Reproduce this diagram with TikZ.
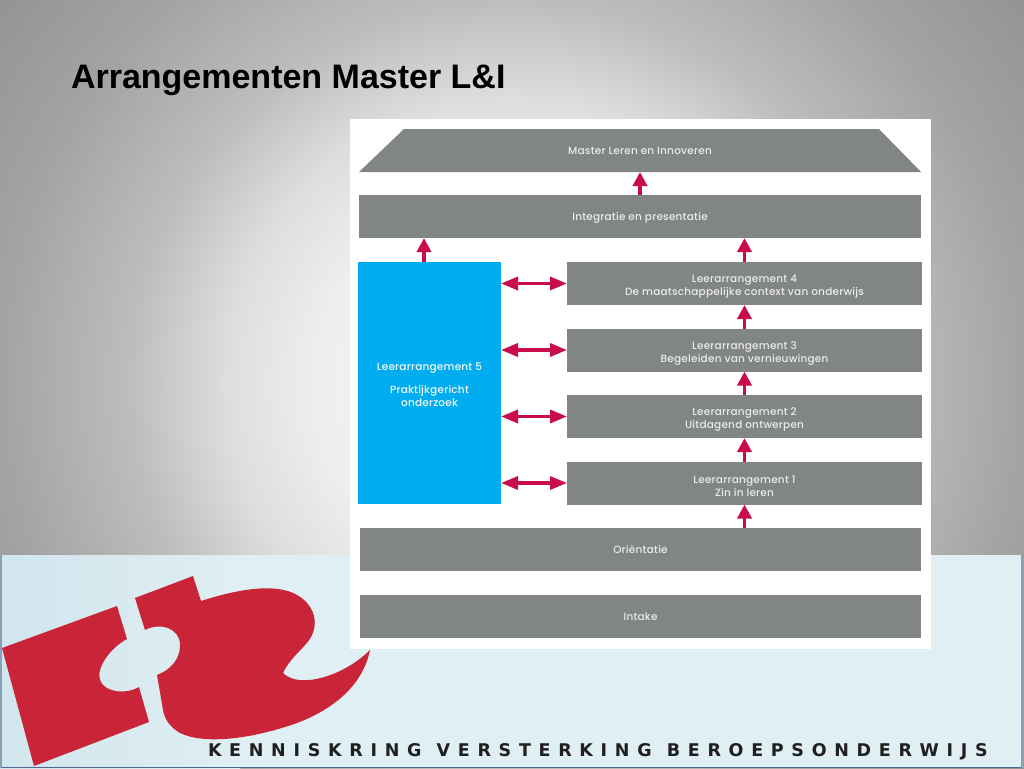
\documentclass[tikz,border=0pt]{standalone}
\usepackage{fontspec}
\setmainfont{Liberation Sans}
\newfontfamily\boxfont[LetterSpace=2]{Poppins Medium}
\newfontfamily\bandfont[LetterSpace=44,WordSpace=1.1]{DejaVu Sans Bold}
\usetikzlibrary{arrows.meta,positioning}
\definecolor{boxgrey}{rgb}{0.51,0.52,0.52}
\definecolor{boxblue}{rgb}{0,0.68,0.94}
\definecolor{pijl}{rgb}{0.79,0.05,0.29}
\definecolor{logored}{rgb}{0.79,0.14,0.22}
\definecolor{band}{rgb}{0.875,0.937,0.953}
\definecolor{bandleft}{rgb}{0.82,0.90,0.93}
\definecolor{rand}{rgb}{0.30,0.42,0.55}
\pgfdeclareradialshading{slidebg}{\pgfpointorigin}{
    color(0bp)=(white);
    color(7.6bp)=(black!7);
    color(10.8bp)=(black!13);
    color(14.5bp)=(black!26);
    color(19.4bp)=(black!36);
    color(24.2bp)=(black!42);
    color(50bp)=(black!42)}
\newcommand{\kop}[1]{\rule{0pt}{#1pt}}

\begin{document}
\begin{tikzpicture}[
    x=1pt, y=-1pt,
    every node/.style={inner sep=0pt, outer sep=0pt},
    grey box/.style={fill=boxgrey, text=black!8, font=\boxfont\fontsize{10.5}{13}\selectfont, align=center, minimum height=43pt},
    one line/.style={text height=8pt, text depth=0pt},
    wide box/.style={grey box, one line, minimum width=561pt},
    leer box/.style={grey box, minimum width=355pt},
    blue box/.style={fill=boxblue, text=black!3, font=\boxfont\fontsize{10.5}{13}\selectfont, align=center, minimum width=143pt, minimum height=242pt},
    up arrow/.style={draw=pijl, line width=3.6pt, -{Triangle[length=14pt, width=14pt]}},
    both arrow/.style={draw=pijl, line width=3.4pt, {Triangle[length=17pt, width=13pt]}-{Triangle[length=17pt, width=13pt]}}
    ]

    % achtergrond
    \useasboundingbox (0,0) rectangle (1024,768);
    \begin{scope}
        \clip (0,0) rectangle (1024,768);
        \shade[shading=slidebg] (512,384) circle (660);
    \end{scope}
    \fill[band] (0,555) rectangle (1024,768);
    \fill[left color=bandleft, right color=band] (0,555) rectangle (240,768);
    \fill[rand] (0,766.5) rectangle (1024,768);
    \fill[rand!60!band] (0,555) rectangle (1.5,768);
    \fill[rand!60!band] (1021,555) rectangle (1024,768);

    % logo
    \fill[logored] (2,648) -- (117,606) -- (127,639)
        .. controls (110,648) and (96,668) .. (100,680)
        .. controls (104,692) and (125,695) .. (139,687)
        -- (149,722) -- (34,766) -- cycle;
    \fill[logored] (135,598) -- (193,576) -- (201,601)
        .. controls (235,590) and (275,582) .. (297,595)
        .. controls (318,607) and (320,630) .. (305,645)
        .. controls (296,655) and (288,662) .. (283,673)
        .. controls (300,690) and (345,675) .. (370,650)
        .. controls (362,690) and (325,715) .. (285,727)
        .. controls (250,738) and (205,745) .. (180,733)
        .. controls (170,727) and (165,720) .. (163,710)
        -- (157,675)
        .. controls (170,670) and (180,660) .. (180,645)
        .. controls (180,628) and (160,622) .. (145,630)
        -- cycle;
    \node[font=\bandfont\fontsize{17.5}{18}\selectfont, text=black!88, anchor=base west] (band tekst) at (208,756.5) {KENNISKRING VERSTERKING BEROEPSONDERWIJS};

    \node[font=\bfseries\fontsize{34}{34}\selectfont, anchor=west] (titel) at (71,80) {Arrangementen Master L\&I};

    % schema
    \node[fill=white, minimum width=581pt, minimum height=530pt, anchor=north west] (paneel) at (350,119) {};

    \fill[boxgrey] (359,172) -- (404,129) -- (879,129) -- (921,172) -- cycle;
    \node[wide box, fill=none, minimum width=562pt] (master) at (640,150.5) {Master Leren en Innoveren};
    \node[wide box, minimum width=562pt] (integratie) at (640,216.5) {Integratie en presentatie};
    \node[blue box] (leer5) at (429.5,383) {\kop{12}Leerarrangement 5\\[10pt]Praktijkgericht\\onderzoek};
    \node[leer box] (leer4) at (744.5,283.5) {\kop{14}Leerarrangement 4\\De maatschappelijke context van onderwijs};
    \node[leer box, below=23.5pt of leer4] (leer3) {\kop{14}Leerarrangement 3\\Begeleiden van vernieuwingen};
    \node[leer box, below=23.5pt of leer3] (leer2) {\kop{14}Leerarrangement 2\\Uitdagend ontwerpen};
    \node[leer box, below=23.5pt of leer2] (leer1) {\kop{14}Leerarrangement 1\\Zin in leren};
    \node[wide box] (orientatie) at (640.5,549.5) {Oriëntatie};
    \node[wide box] (intake) at (640.5,616.5) {Intake};

    \draw[up arrow] (orientatie.north -| leer1.south) -- (leer1.south);
    \draw[up arrow] (leer1.north) -- (leer2.south);
    \draw[up arrow] (leer2.north) -- (leer3.south);
    \draw[up arrow] (leer3.north) -- (leer4.south);
    \draw[up arrow] (leer4.north) -- (leer4.north |- integratie.south);
    \draw[up arrow] (integratie.north) -- (master.south);
    \draw[up arrow] ([xshift=-5.5pt]leer5.north) -- ([xshift=-5.5pt]leer5.north |- integratie.south);

    \foreach \leer in {leer1,leer2,leer3,leer4} {
        \draw[both arrow] (leer5.east |- \leer.west) -- (\leer.west);
    }
\end{tikzpicture}
\end{document}
